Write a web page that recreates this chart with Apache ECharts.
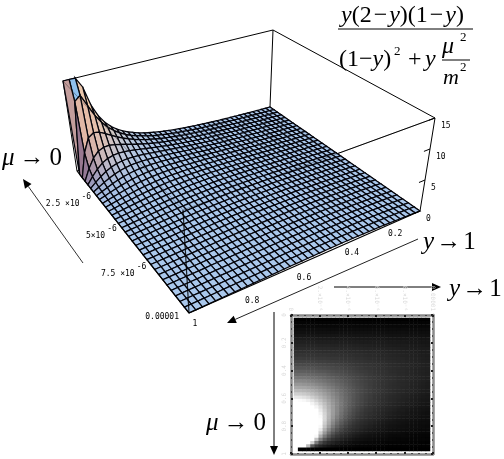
<!DOCTYPE html>
<html><head><meta charset="utf-8">
<style>html,body{margin:0;padding:0;background:#fff}#c{width:504px;height:459px}</style>
<script src="https://cdn.jsdelivr.net/npm/echarts@6/dist/echarts.min.js"></script>
</head><body><div id="c"></div>
<script>
var muStep = 1e-5 / 32;
var muValues = [0,1,2,3,4,5,6,7,8,9,10,11,12,13,14,15,16,17,18,19,20,21,22,23,24,25,26,27,28,29,30,31,32];
var yValues = [0,.025,.05,.075,.1,.125,.15,.175,.2,.225,.25,.275,.3,.325,.35,.375,.4,.425,.45,.475,.5,.525,.55,.575,.6,.625,.65,.675,.7,.725,.75,.775,.8,.825,.85,.875,.9,.925,.95,.975,1];
// surface heights, one row per mu step, one column per y step (clipped at 15 as in the picture)
var zRows = [
[0,.05,.10,.16,.21,.27,.33,.39,.45,.52,.58,.65,.73,.81,.89,.98,1.07,1.16,1.27,1.38,1.5,1.63,1.77,1.93,2.1,2.29,2.51,2.75,3.03,3.36,3.75,4.22,4.8,5.54,6.52,7.88,9.9,13.25,15,15,15],
[0,.05,.10,.16,.21,.27,.33,.39,.45,.51,.58,.65,.73,.80,.89,.97,1.06,1.16,1.26,1.38,1.5,1.62,1.76,1.92,2.09,2.27,2.49,2.73,3.0,3.31,3.68,4.12,4.66,5.32,6.16,7.26,8.7,10.6,12.6,11.8,0],
[0,.05,.10,.16,.21,.27,.33,.39,.45,.51,.58,.65,.72,.80,.88,.97,1.06,1.16,1.26,1.37,1.48,1.61,1.74,1.89,2.05,2.23,2.43,2.65,2.89,3.18,3.49,3.86,4.28,4.77,5.31,5.87,6.4,6.6,6.0,3.8,0],
[0,.05,.10,.16,.21,.27,.33,.39,.45,.51,.58,.65,.72,.80,.88,.96,1.05,1.14,1.24,1.35,1.46,1.58,1.71,1.85,2.0,2.16,2.34,2.53,2.74,2.98,3.22,3.49,3.77,4.05,4.3,4.46,4.43,4.07,3.2,1.79,0],
[0,.05,.10,.16,.21,.27,.33,.39,.45,.51,.58,.65,.72,.79,.87,.96,1.04,1.13,1.22,1.32,1.43,1.54,1.66,1.79,1.92,2.07,2.21,2.38,2.55,2.72,2.90,3.07,3.23,3.35,3.40,3.33,3.10,2.65,1.94,1.02,0],
[0,.05,.10,.16,.21,.27,.32,.38,.45,.51,.57,.64,.71,.78,.86,.94,1.02,1.11,1.20,1.29,1.39,1.50,1.61,1.72,1.84,1.96,2.08,2.21,2.34,2.46,2.57,2.67,2.72,2.74,2.67,2.51,2.24,1.83,1.29,.66,0],
[0,.05,.10,.16,.21,.26,.32,.38,.44,.50,.57,.63,.70,.77,.85,.92,1.0,1.09,1.17,1.26,1.35,1.45,1.54,1.64,1.74,1.85,1.94,2.04,2.12,2.2,2.26,2.29,2.29,2.24,2.12,1.93,1.66,1.32,.91,.46,0],
[0,.05,.10,.16,.21,.26,.32,.38,.44,.50,.56,.63,.70,.77,.84,.91,.99,1.07,1.14,1.22,1.30,1.39,1.47,1.56,1.64,1.72,1.80,1.86,1.92,1.96,1.98,1.97,1.92,1.84,1.70,1.52,1.28,1.0,.68,.34,0],
[0,.05,.10,.15,.21,.26,.32,.38,.44,.50,.56,.62,.69,.75,.82,.89,.96,1.03,1.10,1.18,1.25,1.33,1.40,1.47,1.54,1.60,1.65,1.69,1.72,1.74,1.72,1.69,1.63,1.53,1.39,1.21,1.01,.78,.52,.26,0],
[0,.05,.10,.15,.21,.26,.32,.38,.43,.49,.55,.61,.68,.74,.81,.87,.94,1.0,1.07,1.14,1.20,1.27,1.33,1.38,1.43,1.48,1.51,1.54,1.55,1.54,1.51,1.46,1.38,1.28,1.15,.99,.82,.62,.42,.21,0],
[0,.05,.10,.15,.20,.26,.31,.37,.43,.49,.55,.61,.67,.73,.79,.85,.91,.97,1.03,1.09,1.15,1.20,1.25,1.30,1.34,1.37,1.39,1.39,1.39,1.37,1.32,1.26,1.18,1.08,.96,.82,.67,.51,.34,.17,0],
[0,.05,.10,.15,.20,.26,.31,.37,.42,.48,.54,.60,.66,.71,.77,.83,.89,.94,.99,1.05,1.10,1.14,1.18,1.21,1.24,1.26,1.27,1.26,1.25,1.21,1.17,1.10,1.02,.93,.82,.70,.56,.43,.28,.14,0],
[0,.05,.10,.15,.21,.26,.31,.37,.42,.48,.53,.59,.64,.70,.75,.80,.86,.91,.95,1.0,1.04,1.08,1.11,1.13,1.15,1.16,1.16,1.15,1.12,1.08,1.03,.97,.89,.80,.70,.59,.48,.36,.24,.12,0],
[0,.05,.10,.15,.20,.25,.31,.36,.42,.47,.52,.58,.63,.68,.73,.78,.83,.87,.92,.96,.99,1.02,1.04,1.06,1.07,1.07,1.06,1.04,1.01,.97,.92,.85,.78,.70,.61,.51,.41,.31,.20,.10,0],
[0,.05,.10,.15,.20,.25,.31,.36,.41,.46,.51,.57,.62,.66,.71,.76,.80,.84,.88,.91,.94,.96,.98,.99,.99,.98,.97,.95,.91,.87,.82,.76,.69,.61,.53,.44,.36,.26,.17,.09,0],
[0,.05,.10,.15,.20,.25,.30,.36,.41,.46,.51,.55,.60,.65,.69,.73,.77,.81,.84,.87,.89,.91,.92,.92,.92,.91,.89,.86,.83,.78,.73,.67,.61,.54,.47,.39,.31,.23,.15,.07,0],
[0,.05,.10,.15,.20,.25,.30,.35,.40,.45,.50,.55,.59,.63,.67,.71,.74,.78,.80,.82,.84,.86,.86,.86,.85,.84,.82,.79,.75,.71,.66,.60,.54,.48,.41,.35,.27,.20,.13,.07,0],
[0,.05,.10,.15,.20,.25,.30,.35,.40,.44,.49,.53,.57,.61,.65,.68,.72,.74,.77,.78,.80,.80,.81,.80,.79,.77,.75,.72,.68,.64,.60,.54,.49,.43,.37,.31,.24,.18,.12,.06,0],
[0,.05,.10,.15,.20,.25,.30,.35,.39,.44,.48,.52,.56,.60,.63,.66,.69,.71,.73,.75,.75,.76,.76,.75,.74,.72,.69,.66,.63,.58,.54,.49,.44,.39,.33,.28,.22,.16,.11,.05,0],
[0,.05,.10,.15,.20,.24,.29,.34,.38,.43,.47,.51,.55,.58,.61,.64,.66,.68,.70,.71,.71,.71,.71,.70,.68,.67,.64,.61,.57,.54,.49,.45,.40,.35,.30,.25,.20,.14,.10,.05,0],
[0,.05,.10,.15,.20,.24,.29,.34,.38,.42,.46,.50,.53,.56,.59,.61,.64,.65,.66,.67,.68,.67,.67,.66,.64,.62,.59,.56,.53,.49,.45,.41,.36,.32,.27,.22,.18,.13,.09,.04,0],
[0,.05,.10,.15,.19,.24,.29,.33,.37,.41,.45,.48,.52,.55,.57,.59,.61,.62,.63,.64,.64,.64,.63,.61,.60,.57,.55,.52,.49,.45,.41,.37,.33,.29,.25,.20,.16,.12,.08,.04,0],
[0,.05,.10,.15,.19,.24,.28,.33,.37,.40,.44,.47,.50,.53,.55,.57,.59,.60,.60,.61,.61,.60,.59,.58,.56,.54,.51,.48,.45,.41,.38,.34,.30,.27,.23,.19,.15,.11,.07,.03,0],
[0,.05,.10,.15,.19,.23,.28,.32,.36,.40,.43,.46,.49,.51,.53,.55,.56,.57,.58,.58,.57,.57,.56,.54,.52,.50,.48,.45,.42,.39,.35,.32,.28,.24,.21,.17,.13,.10,.07,.03,0],
[0,.05,.10,.15,.19,.23,.28,.32,.35,.39,.42,.45,.47,.50,.51,.53,.54,.55,.55,.55,.54,.54,.52,.51,.49,.47,.44,.42,.39,.36,.33,.29,.26,.23,.19,.16,.12,.09,.06,.03,0],
[0,.05,.10,.14,.19,.23,.27,.31,.35,.38,.41,.44,.46,.48,.50,.51,.52,.52,.52,.52,.52,.51,.49,.48,.46,.44,.41,.39,.36,.33,.30,.27,.24,.21,.18,.15,.11,.08,.06,.03,0],
[0,.05,.09,.14,.19,.23,.27,.31,.34,.37,.40,.43,.45,.47,.48,.49,.50,.50,.50,.50,.49,.48,.47,.45,.43,.41,.39,.36,.34,.31,.28,.25,.22,.19,.16,.13,.11,.08,.05,.03,0],
[0,.05,.09,.14,.18,.22,.26,.30,.34,.36,.39,.41,.43,.45,.46,.47,.48,.48,.48,.47,.47,.46,.44,.42,.41,.39,.36,.34,.31,.29,.26,.23,.21,.18,.15,.12,.10,.07,.05,.02,0],
[0,.05,.09,.14,.18,.22,.26,.29,.33,.36,.38,.40,.42,.44,.45,.45,.46,.46,.46,.45,.44,.43,.42,.40,.38,.36,.34,.32,.29,.27,.24,.22,.19,.17,.14,.12,.09,.07,.04,.02,0],
[0,.05,.09,.14,.18,.22,.26,.29,.32,.35,.37,.39,.41,.42,.43,.44,.44,.44,.44,.43,.42,.41,.40,.38,.36,.34,.32,.30,.28,.25,.23,.20,.18,.16,.13,.11,.08,.06,.04,.02,0],
[0,.05,.09,.14,.18,.22,.25,.29,.32,.34,.36,.38,.40,.41,.42,.42,.42,.42,.42,.41,.40,.39,.38,.36,.34,.32,.30,.28,.26,.24,.22,.19,.17,.15,.12,.10,.08,.06,.04,.02,0],
[0,.05,.09,.14,.18,.22,.25,.28,.31,.33,.35,.37,.38,.39,.40,.40,.41,.40,.40,.39,.38,.37,.36,.34,.32,.30,.29,.27,.24,.22,.20,.18,.16,.14,.12,.09,.07,.06,.04,.02,0],
[0,.05,.09,.14,.18,.21,.25,.28,.30,.33,.34,.36,.37,.38,.39,.39,.39,.39,.38,.37,.36,.35,.34,.32,.31,.29,.27,.25,.23,.21,.19,.17,.15,.13,.11,.09,.07,.05,.03,.02,0]
];
var muTicks = [2.5e-6, 5e-6, 7.5e-6, 1e-5];
var muTickLabels = ['2.5 ×10', '5×10', '7.5 ×10', '0.00001'];
var yTicks = [.2, .4, .6, .8, 1];
var yTickLabels = ['0.2', '0.4', '0.6', '0.8', '1'];
var zTicks = [0, 5, 10, 15];
var zTickLabels = ['0', '5', '10', '15'];
var densityMuLabels = ['0', '2.×10⁻⁶', '4.×10⁻⁶', '6.×10⁻⁶', '8.×10⁻⁶', '0.00001'];

var MU_MAX = 1e-5, Z_MAX = 15;
function quadMap(q){
  var dx1=q[1][0]-q[2][0],dx2=q[3][0]-q[2][0],sx=q[0][0]-q[1][0]+q[2][0]-q[3][0];
  var dy1=q[1][1]-q[2][1],dy2=q[3][1]-q[2][1],sy=q[0][1]-q[1][1]+q[2][1]-q[3][1];
  var d=dx1*dy2-dx2*dy1;
  var g=(sx*dy2-dx2*sy)/d,h=(dx1*sy-sx*dy1)/d;
  var a=q[1][0]-q[0][0]+g*q[1][0],b=q[3][0]-q[0][0]+h*q[3][0],c=q[0][0];
  var e=q[1][1]-q[0][1]+g*q[1][1],f=q[3][1]-q[0][1]+h*q[3][1],k=q[0][1];
  return function(u,v){var w=g*u+h*v+1;return [(a*u+b*v+c)/w,(e*u+f*v+k)/w];};
}
// corners in order: (mu 0,y 0),(mu max,y 0),(mu max,y 1),(mu 0,y 1)
var floorMap = quadMap([[270,107],[420,211],[189,313],[77,171]]);
var ceilMap  = quadMap([[273,30],[435,118],[183,210],[63,81]]);
function norm(api,params,mu,y){
  var p=api.coord([mu,y]),r=params.coordSys;
  return [(p[0]-r.x)/r.width,(r.y+r.height-p[1])/r.height];
}
function project(api,params,mu,y,z){
  var n=norm(api,params,mu,y),a=floorMap(n[0],n[1]),b=ceilMap(n[0],n[1]),t=z/Z_MAX;
  return [a[0]+(b[0]-a[0])*t,a[1]+(b[1]-a[1])*t];
}
var SHADE={up:[170,200,236],uPlus:[232,188,165],uMinus:[225,205,205],vPlus:[140,108,140],vMinus:[250,210,165]};
function shade(c){
  var k=0.45,P=function(q){return [q[0]/32,q[1]/40,zRows[q[0]][q[1]]/Z_MAX*k];};
  var p=c.map(P),a=[p[2][0]-p[0][0],p[2][1]-p[0][1],p[2][2]-p[0][2]],b=[p[3][0]-p[1][0],p[3][1]-p[1][1],p[3][2]-p[1][2]];
  var n=[a[1]*b[2]-a[2]*b[1],a[2]*b[0]-a[0]*b[2],a[0]*b[1]-a[1]*b[0]];
  var l=Math.sqrt(n[0]*n[0]+n[1]*n[1]+n[2]*n[2]);n=n.map(function(x){return x/l;});
  if(n[2]<0)n=n.map(function(x){return -x;});
  var cu=n[0]>0?SHADE.uPlus:SHADE.uMinus,cv=n[1]>0?SHADE.vPlus:SHADE.vMinus,out=[];
  for(var i=0;i<3;i++)out.push(Math.round(n[2]*n[2]*SHADE.up[i]+n[0]*n[0]*cu[i]+n[1]*n[1]*cv[i]));
  return 'rgb('+out.join(',')+')';
}
var cellData=[],heatData=[];
for(var i=0;i<muValues.length;i++)for(var j=0;j<yValues.length;j++){
  if(i<muValues.length-1&&j<yValues.length-1)cellData.push([i,j]);
  heatData.push([i,j,zRows[i][j]]);
}
function renderCell(params,api){
  var i=api.value(0),j=api.value(1);
  var c=[[i,j],[i+1,j],[i+1,j+1],[i,j+1]],clip=0,low=Z_MAX;
  var pts=c.map(function(q){var z=zRows[q[0]][q[1]];if(z>=Z_MAX)clip++;low=Math.min(low,z);return project(api,params,muValues[q[0]]*muStep,yValues[q[1]],z);});
  return {type:'polygon',shape:{points:pts},style:{fill:(clip>=2&&low>5)?'#8fc0ee':shade(c),stroke:'#05050c',lineWidth:1.25}};
}
var behindEdges=[[0,1,Z_MAX,0,0,Z_MAX],[0,0,Z_MAX,MU_MAX,0,Z_MAX],[0,0,0,0,0,Z_MAX],[MU_MAX,0,0,MU_MAX,0,Z_MAX],[0,1,0,0,1,Z_MAX],[MU_MAX,0,Z_MAX,MU_MAX,1,Z_MAX],[0,0,0,MU_MAX,0,0],[0,0,0,0,1,0]];
var frontEdges=[[MU_MAX,1,0,MU_MAX,0,0,1,1.2],[MU_MAX,1,0,0,1,0,1,1.2],[MU_MAX,1,0,MU_MAX,1,Z_MAX,.85,1.2],[MU_MAX,1,Z_MAX,MU_MAX,0,Z_MAX,.3,1],[MU_MAX,1,Z_MAX,0,1,Z_MAX,.3,1]];
function renderEdge(params,api){
  var a=project(api,params,api.value(0),api.value(1),api.value(2)),b=project(api,params,api.value(3),api.value(4),api.value(5));
  var op=api.value(6),lw=api.value(7);
  return {type:'line',shape:{x1:a[0],y1:a[1],x2:b[0],y2:b[1]},style:{stroke:'#000',lineWidth:isNaN(lw)?1:lw,opacity:isNaN(op)?1:op}};
}
var TICKFONT='"DejaVu Sans Mono"';
function tickText(x,y,text,align){
  return {type:'text',x:x,y:y,style:{text:text,fontFamily:TICKFONT,fontSize:8,fill:'#000',align:align,verticalAlign:'middle'}};
}
function renderMuTick(params,api){
  var idx=params.dataIndex,p=project(api,params,muTicks[idx],1,0);
  if(idx===3)return tickText(p[0]-10,p[1]+4,muTickLabels[idx],'right');
  return {type:'group',children:[tickText(p[0]-20,p[1]+4,muTickLabels[idx],'right'),tickText(p[0]-18,p[1]-3,'-6','left')]};
}
var yTickShift=[[16,5],[16,5],[14,10],[11,11],[6,11]];
function renderYTick(params,api){
  var idx=params.dataIndex,p=project(api,params,MU_MAX,yTicks[idx],0);
  return tickText(p[0]+yTickShift[idx][0],p[1]+yTickShift[idx][1],yTickLabels[idx],'center');
}
function renderZTick(params,api){
  var idx=params.dataIndex,p=project(api,params,MU_MAX,0,zTicks[idx]);
  var n=project(api,params,MU_MAX,0.03,zTicks[idx]);
  return {type:'group',children:[
    {type:'line',shape:{x1:p[0],y1:p[1],x2:n[0],y2:n[1]},style:{stroke:'#000',lineWidth:1}},
    tickText(p[0]+6,p[1]+8,zTickLabels[idx],'left')]};
}
var SERIF='"Liberation Serif"';
function rt(x,y,text,size){
  return {type:'text',x:x,y:y,silent:true,style:{text:text,fontFamily:SERIF,fontSize:size,fill:'#000',verticalAlign:'middle',
    rich:{i:{fontFamily:SERIF,fontStyle:'italic',fontSize:size,fill:'#000'},n:{fontFamily:SERIF,fontSize:size,fill:'#000'}}}};
}
function ln(x1,y1,x2,y2,w,col){return {type:'line',silent:true,shape:{x1:x1,y1:y1,x2:x2,y2:y2},style:{stroke:col||'#000',lineWidth:w||1}};}
function arrow(x1,y1,x2,y2,col){
  var a=Math.atan2(y2-y1,x2-x1),L=9,W=4,bx=x2-L*Math.cos(a),by=y2-L*Math.sin(a),nx=-Math.sin(a)*W,ny=Math.cos(a)*W;
  return [ln(x1,y1,bx,by,1,col),{type:'polygon',silent:true,shape:{points:[[x2,y2],[bx+nx,by+ny],[bx-nx,by-ny]]},style:{fill:'#000'}}];
}
var graphics=[].concat(
  arrow(83,263,23,179,'#333'),arrow(418,239,227,323,'#222'),arrow(334,287,441,287),arrow(274,312,274,455),
  [rt(2,158,'{i|μ}\u2009→\u2009{n|0}',25),rt(423,242,'{i|y}\u200a→\u200a{n|1}',25),rt(449,289,'{i|y}\u200a→\u200a{n|1}',25),rt(206,423,'{i|μ}\u2009→\u2009{n|0}',25),
   rt(341,16,'{i|y}(2\u200a−\u200a{i|y})(1\u200a−\u200a{i|y})',24),ln(338,29,473,29,1),
   rt(339,60,'(1−{i|y})',24),rt(394,52,'2',13),rt(408,60,'+',24),rt(425,60,'{i|y}',24),
   rt(442,47,'{i|μ}',24),rt(460,38,'2',13),ln(442,60,470,60,1),rt(443,78,'{i|m}',22),rt(460,68,'2',13)]
);
var chart=echarts.init(document.getElementById('c'),null,{renderer:'canvas'});
function frameAxis(pos,isX,labels){
  var o={type:'value',gridIndex:2,position:pos,min:0,max:isX?MU_MAX:1,interval:isX?2e-6:.2,splitLine:{show:false},
    axisLine:{show:true,onZero:false,lineStyle:{color:'#8a8a8a',width:2.5}},
    axisTick:{show:true,inside:true,length:2,lineStyle:{color:'#222',width:2}},
    minorTick:{show:true,splitNumber:4,length:1,lineStyle:{color:'#333',width:1.5}},
    axisLabel:{show:labels,color:'#d8d8d8',fontSize:6,margin:4,fontFamily:TICKFONT}};
  if(isX&&labels){o.axisLabel.rotate=90;o.axisLabel.formatter=function(v){return densityMuLabels[Math.round(v/2e-6)];};}
  if(!isX){o.inverse=true;if(labels){o.axisLabel.rotate=90;o.axisLabel.formatter=function(v){return v===0||v===1?String(v):v.toFixed(1);};}}
  return o;
}
var greyRamp=['#000000','#121212','#262626','#373737','#4e4e4e','#696969','#878787','#a5a5a5','#c3c3c3','#e4e4e4','#ffffff'];
chart.setOption({
  animation:false,backgroundColor:'#fff',
  grid:[
    {left:0,top:0,width:100,height:100,show:false},
    {left:294,top:318,width:136,height:133,show:false},
    {left:291,top:315,width:142,height:139,show:false}
  ],
  xAxis:[
    {type:'value',gridIndex:0,min:0,max:MU_MAX,show:false},
    {type:'category',gridIndex:1,data:muValues.map(String),show:false},
    frameAxis('top',true,true),
    frameAxis('bottom',true,false)
  ],
  yAxis:[
    {type:'value',gridIndex:0,min:0,max:1,show:false},
    {type:'category',gridIndex:1,data:yValues.map(String),inverse:true,show:false},
    frameAxis('left',false,true),
    frameAxis('right',false,false)
  ],
  visualMap:{show:false,type:'continuous',seriesIndex:0,min:0,max:2.3,dimension:2,inRange:{color:greyRamp}},
  graphic:graphics,
  series:[
    {type:'heatmap',xAxisIndex:1,yAxisIndex:1,data:heatData,silent:true,progressive:0,z:2},
    {type:'custom',xAxisIndex:0,yAxisIndex:0,data:behindEdges,renderItem:renderEdge,silent:true,clip:false,z:1,progressive:0},
    {type:'custom',xAxisIndex:0,yAxisIndex:0,data:cellData,renderItem:renderCell,silent:true,clip:false,z:2,progressive:0},
    {type:'custom',xAxisIndex:0,yAxisIndex:0,data:frontEdges,renderItem:renderEdge,silent:true,clip:false,z:3,progressive:0},
    {type:'custom',xAxisIndex:0,yAxisIndex:0,data:muTicks.map(function(v){return [v];}),renderItem:renderMuTick,silent:true,clip:false,z:4},
    {type:'custom',xAxisIndex:0,yAxisIndex:0,data:yTicks.map(function(v){return [v];}),renderItem:renderYTick,silent:true,clip:false,z:4},
    {type:'custom',xAxisIndex:0,yAxisIndex:0,data:zTicks.map(function(v){return [v];}),renderItem:renderZTick,silent:true,clip:false,z:4}
  ]
});
</script></body></html>
